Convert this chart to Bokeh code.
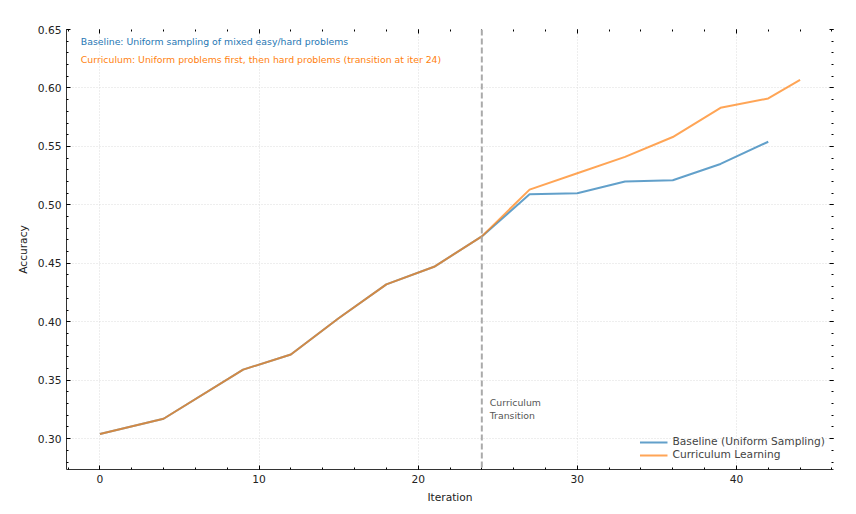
from bokeh.plotting import figure
from bokeh.models import Span, Label, Legend, LegendItem, LinearAxis, Range1d, NumeralTickFormatter
from bokeh.embed import file_html
from bokeh.resources import INLINE

iters_base = [0, 4, 9, 12, 15, 18, 21, 24, 27, 30, 33, 36, 39, 42]
acc_base = [0.304, 0.317, 0.359, 0.372, 0.403, 0.432, 0.447, 0.473, 0.509, 0.510, 0.520, 0.521, 0.535, 0.554]
iters_curr = [0, 4, 9, 12, 15, 18, 21, 24, 27, 30, 33, 36, 39, 42, 44]
acc_curr = [0.304, 0.317, 0.359, 0.372, 0.403, 0.432, 0.447, 0.473, 0.513, 0.527, 0.541, 0.558, 0.583, 0.591, 0.607]
transition = 24

FONT = "DejaVu Sans"

p = figure(width=846, height=506, output_backend="svg", toolbar_location=None,
           x_range=Range1d(-2.1, 46.1), y_range=Range1d(0.2736, 0.65),
           min_border_left=66, min_border_right=13, min_border_top=29, min_border_bottom=30)
p.outline_line_color = None
p.background_fill_color = "white"

p.xgrid.grid_line_color = "#dddddd"
p.ygrid.grid_line_color = "#dddddd"
p.xgrid.grid_line_dash = "1 2"
p.ygrid.grid_line_dash = "1 2"

for ax in (p.xaxis, p.yaxis):
    ax.major_tick_in = 4
    ax.major_tick_out = 0
    ax.minor_tick_in = 2
    ax.minor_tick_out = 0
    ax.major_label_text_font = FONT
    ax.major_label_text_font_size = "8pt"
    ax.major_label_text_color = "#222222"
    ax.axis_label_text_font = FONT
    ax.axis_label_text_font_size = "8pt"
    ax.axis_label_text_font_style = "normal"
    ax.axis_label_text_color = "#222222"
    ax.axis_line_color = "#333333"
p.xaxis.axis_label = "Iteration"
p.yaxis.axis_label = "Accuracy"
p.xaxis.ticker.desired_num_ticks = 5
p.yaxis.ticker.desired_num_ticks = 8
p.yaxis.formatter = NumeralTickFormatter(format="0.00")

top = LinearAxis(major_label_text_font_size="0pt", axis_line_color=None,
                 major_tick_in=4, major_tick_out=0, minor_tick_in=2, minor_tick_out=0)
right = LinearAxis(major_label_text_font_size="0pt", axis_line_color=None,
                   major_tick_in=4, major_tick_out=0, minor_tick_in=2, minor_tick_out=0)
p.add_layout(top, "above")
p.add_layout(right, "right")

r1 = p.line(iters_base, acc_base, line_color="#1f77b4", line_alpha=0.7, line_width=2)
r2 = p.line(iters_curr, acc_curr, line_color="#ff7f0e", line_alpha=0.7, line_width=2)

p.add_layout(Span(location=transition, dimension="height", line_color="#aaaaaa",
                  line_dash="6 3", line_width=2))
p.add_layout(Label(x=transition + 0.5, y=0.315, text="Curriculum\nTransition",
                   text_font=FONT, text_font_size="7pt", text_color="#555555"))

p.add_layout(Label(x=-1.2, y=0.6395, text="Baseline: Uniform sampling of mixed easy/hard problems",
                   text_font=FONT, text_font_size="7pt", text_color="#1f77b4",
                   text_baseline="middle"))
p.add_layout(Label(x=-1.2, y=0.6245,
                   text="Curriculum: Uniform problems first, then hard problems (transition at iter 24)",
                   text_font=FONT, text_font_size="7pt", text_color="#ff7f0e",
                   text_baseline="middle"))

legend = Legend(items=[LegendItem(label="Baseline (Uniform Sampling)", renderers=[r1]),
                       LegendItem(label="Curriculum Learning", renderers=[r2])],
                location="bottom_right", border_line_color=None, background_fill_alpha=0,
                label_text_font=FONT, label_text_font_size="8pt", glyph_width=28,
                spacing=0, label_height=12, glyph_height=12, margin=8)
p.add_layout(legend)

open("out.html", "w").write(file_html(p, INLINE))
